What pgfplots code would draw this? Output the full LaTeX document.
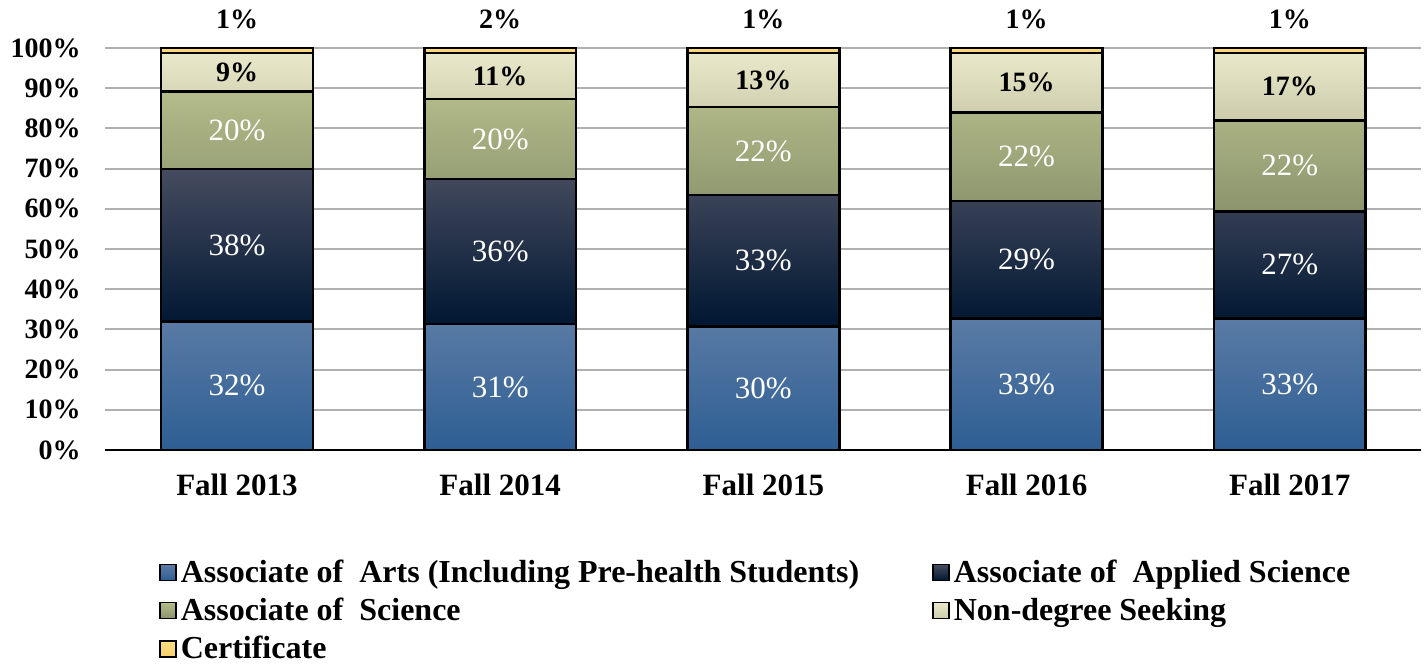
\documentclass[border=0pt]{standalone}
\usepackage{pgfplots}
\pgfplotsset{compat=1.18}
\usepackage{pgfplotstable}
\usepackage{fontspec}
\setmainfont{Liberation Serif}

\definecolor{aaT}{RGB}{90,123,165}
\definecolor{aaB}{RGB}{46,94,147}
\definecolor{aasT}{RGB}{70,76,95}
\definecolor{aasM}{RGB}{3,26,56}
\definecolor{aasB}{RGB}{0,22,50}
\definecolor{asT}{RGB}{180,188,138}
\definecolor{asB}{RGB}{140,148,110}
\definecolor{ndT}{RGB}{233,232,202}
\definecolor{ndB}{RGB}{204,203,171}
\definecolor{ceT}{RGB}{252,222,130}
\definecolor{ceB}{RGB}{246,208,110}
\definecolor{gridc}{RGB}{176,176,176}

% stacked shares (percent)
\pgfplotstableread{
x  aa    aas   as    nd     ce
0  31.9  38.0  19.3  9.55   1.25
1  31.3  36.1  19.9  11.45  1.25
2  30.7  32.7  21.9  13.45  1.25
3  32.7  29.2  22.1  14.75  1.25
4  32.7  26.7  22.6  16.75  1.25
}\shares

% data labels (white): position = segment middle, text = label
\pgfplotstableread{
x  y      lab
0  15.95  32
0  50.90  38
0  79.55  20
1  15.65  31
1  49.35  36
1  77.35  20
2  15.35  30
2  47.05  33
2  74.35  22
3  16.35  33
3  47.30  29
3  72.95  22
4  16.35  33
4  46.05  27
4  70.70  22
}\whitelabels

% data labels (black)
\pgfplotstableread{
x  y      lab
0  93.98  9
1  93.00  11
2  92.00  13
3  91.40  15
4  90.40  17
0  107.0  1
1  107.0  2
2  107.0  1
3  107.0  1
4  107.0  1
}\blacklabels

\begin{document}
\begin{tikzpicture}
\path[use as bounding box] (0,0) rectangle (712pt,334pt);
\begin{axis}[
  at={(52.7pt,109pt)}, anchor=south west,
  scale only axis, width=658pt, height=201pt,
  ybar stacked, bar width=0.577,
  xmin=-0.5, xmax=4.5, ymin=0, ymax=100,
  xtick={0,1,2,3,4},
  xticklabels={Fall 2013,Fall 2014,Fall 2015,Fall 2016,Fall 2017},
  ytick={0,10,...,100},
  yticklabel={\pgfmathprintnumber{\tick}\%},
  /pgf/number format/assume math mode=true,
  yticklabel style={font=\fontsize{14}{16}\selectfont\bfseries, xshift=-8.8pt},
  xticklabel style={font=\fontsize{15.5}{17}\selectfont\bfseries, yshift=-8.6pt},
  major tick length=0pt,
  axis x line*=bottom, axis y line*=left,
  x axis line style={-, black, line width=1pt},
  y axis line style={draw=none},
  ymajorgrids, grid style={gridc, line width=1pt},
  clip=false,
  every axis plot/.append style={draw=black, line width=1.3pt},
  legend columns=2,
  legend cell align=left,
  legend style={at={(axis description cs:0.036,-0.252)}, anchor=north west,
    draw=none, fill=none, font=\fontsize{16}{18}\selectfont\bfseries,
    row sep=2.3pt,
    /tikz/every even column/.append style={column sep=34.5pt}},
  legend image code/.code={\draw[#1, line width=0.8pt] (0pt,-4pt) rectangle (8pt,4pt);},
]
\addplot[top color=aaT, bottom color=aaB] table[x=x, y=aa] {\shares};
\addlegendentry{Associate of\ \ Arts (Including Pre-health Students)}
\addplot[shading=axis, top color=aasT, middle color=aasM, bottom color=aasB] table[x=x, y=aas] {\shares};
\addlegendentry{Associate of\ \ Applied Science}
\addplot[top color=asT, bottom color=asB] table[x=x, y=as] {\shares};
\addlegendentry{Associate of\ \ Science}
\addplot[top color=ndT, bottom color=ndB] table[x=x, y=nd] {\shares};
\addlegendentry{Non-degree Seeking}
\addplot[top color=ceT, bottom color=ceB] table[x=x, y=ce] {\shares};
\addlegendentry{Certificate}
\end{axis}
\begin{axis}[
  at={(52.7pt,109pt)}, anchor=south west,
  scale only axis, width=658pt, height=201pt,
  xmin=-0.5, xmax=4.5, ymin=0, ymax=100,
  hide axis, clip=false,
]
\addplot[only marks, mark=none, point meta=explicit symbolic,
  nodes near coords={\pgfplotspointmeta\%},
  every node near coord/.append style={anchor=center, text=white, font=\fontsize{15.5}{17}\selectfont}]
  table[x=x, y=y, meta=lab] {\whitelabels};
\addplot[only marks, mark=none, point meta=explicit symbolic,
  nodes near coords={\pgfplotspointmeta\%},
  every node near coord/.append style={anchor=center, text=black, font=\fontsize{14}{16}\selectfont\bfseries}]
  table[x=x, y=y, meta=lab] {\blacklabels};
\end{axis}
\end{tikzpicture}
\end{document}
